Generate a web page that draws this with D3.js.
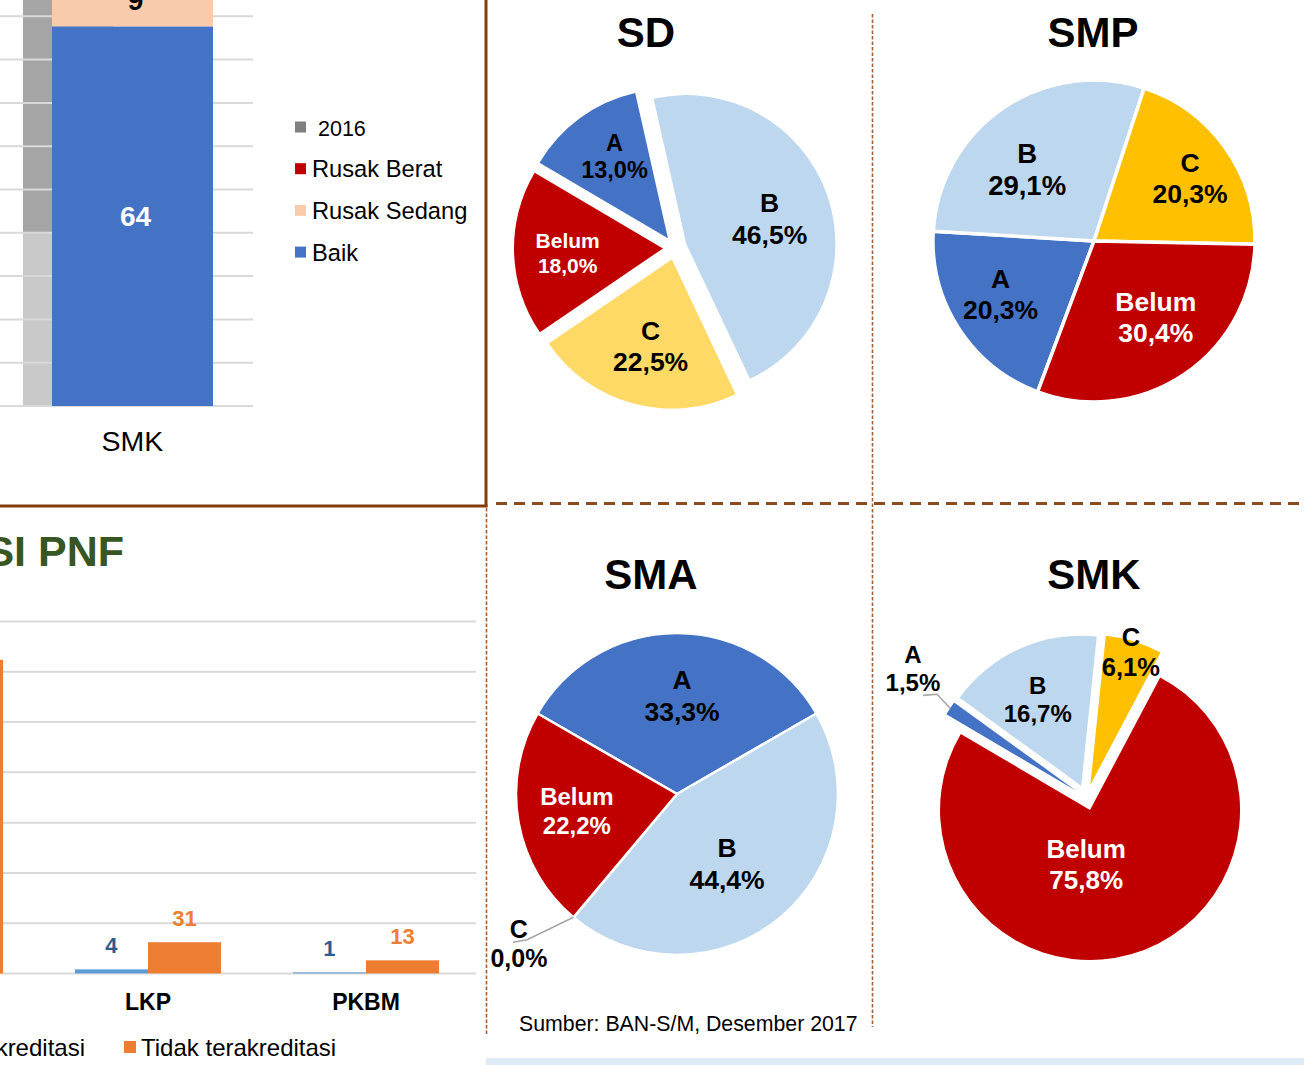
<!DOCTYPE html>
<html><head><meta charset="utf-8">
<script src="https://cdn.jsdelivr.net/npm/d3@7"></script>
<style>
html,body{margin:0;padding:0;background:#fff;}
svg{display:block;font-family:"Liberation Sans",Arial,Helvetica,sans-serif;}
</style>
</head><body>
<svg id="c" width="1304" height="1065"></svg>
<script>
// ================= DATA =================
// Top-left: condition of SMK buildings (100% stacked)
const condCategories = ["SMK"];
const condSeries = ["Baik", "Rusak Sedang", "Rusak Berat"];
const condValues = [64, 9, 0];
const condLegend = ["2016", "Rusak Berat", "Rusak Sedang", "Baik"];
const prev2016Series = ["Baik", "Rusak"];
const prev2016Shares = [40, 60];
const condGridTicks = [0, 0.1, 0.2, 0.3, 0.4, 0.5, 0.6, 0.7, 0.8, 0.9, 1.0];

// Bottom-left: PNF accreditation
const pnfTitle = "AKREDITASI PNF";
const pnfCategories = ["PAUD", "LKP", "PKBM"];
const pnfSeries = ["Terakreditasi", "Tidak terakreditasi"];
const pnfAccredited = [62, 4, 1];
const pnfNotAccredited = [312, 31, 13];
const pnfGridTicks = [0, 50, 100, 150, 200, 250, 300, 350];

// Pies: accreditation share (%)
const pieCategories = ["A", "B", "C", "Belum"];
const pieTitles = ["SD", "SMP", "SMA", "SMK"];
const sdShares  = [13.0, 46.5, 22.5, 18.0];
const smpShares = [20.3, 29.1, 20.3, 30.4];
const smaShares = [33.3, 44.4, 0.0, 22.2];
const smkShares = [1.5, 16.7, 6.1, 75.8];
const sourceNote = "Sumber: BAN-S/M, Desember 2017";

// ================= DRAW =================
const svg = d3.select("#c");
const GRID = "#d9d9d9";

// ---------- top-left stacked bar ----------
{
  const g = svg.append("g");
  const y = d3.scaleLinear().domain([0, 1]).range([406, -27]);
  const x = d3.scaleBand().domain(condCategories).range([0, 265]).paddingInner(0).paddingOuter(0.323);
  const bx = x("SMK"), bw = x.bandwidth();

  const prevTot = d3.sum(prev2016Shares);
  const prevCum = [0, ...d3.cumsum(prev2016Shares)].map(v => v / prevTot);
  const prevColors = ["#c9c9c9", "#a5a5a5"];
  g.selectAll("rect.prev").data(prev2016Shares).join("rect")
    .attr("x", bx - 29).attr("width", 90)
    .attr("y", (d, i) => y(prevCum[i + 1]))
    .attr("height", (d, i) => y(prevCum[i]) - y(prevCum[i + 1]))
    .attr("fill", (d, i) => prevColors[i]);

  g.selectAll("line.grid").data(condGridTicks).join("line")
    .attr("x1", 0).attr("x2", 253)
    .attr("y1", d => y(d)).attr("y2", d => y(d))
    .attr("stroke", GRID).attr("stroke-width", 2);

  const tot = d3.sum(condValues);
  const cum = [0, ...d3.cumsum(condValues)].map(v => v / tot);
  const colors = { "Baik": "#4472c4", "Rusak Sedang": "#f8cbad", "Rusak Berat": "#c00000" };
  const labCol = { "Baik": "#ffffff", "Rusak Sedang": "#000000", "Rusak Berat": "#ffffff" };
  condSeries.forEach((s, i) => {
    if (!condValues[i]) return;
    g.append("rect").attr("x", bx).attr("width", bw)
      .attr("y", y(cum[i + 1])).attr("height", y(cum[i]) - y(cum[i + 1]))
      .attr("fill", colors[s]);
    g.append("text").attr("x", bx + bw / 2 + 3)
      .attr("y", (y(cum[i]) + y(cum[i + 1])) / 2 + 10)
      .attr("text-anchor", "middle").attr("font-weight", "bold").attr("font-size", 28)
      .attr("fill", labCol[s]).text(condValues[i]);
  });
  g.append("text").attr("x", bx + bw / 2).attr("y", 451).attr("text-anchor", "middle")
    .attr("font-size", 28.5).attr("fill", "#000").text(condCategories[0]);

  const legCol = { "2016": "#7f7f7f", "Rusak Berat": "#c00000", "Rusak Sedang": "#f8cbad", "Baik": "#4472c4" };
  condLegend.forEach((s, i) => {
    const cy = 127 + i * 41.7;
    g.append("rect").attr("x", 295).attr("y", cy - 5.5).attr("width", 11).attr("height", 11).attr("fill", legCol[s]);
    g.append("text").attr("x", 312).attr("y", cy + 8.5)
      .attr("font-size", s === "2016" ? 21.5 : 23.7).attr("fill", "#000")
      .text(s === "2016" ? "\u00a0" + s : s);
  });
}

// ---------- frame lines ----------
svg.append("line").attr("x1", 486).attr("x2", 486).attr("y1", 0).attr("y2", 507)
  .attr("stroke", "#843c0c").attr("stroke-width", 3);
svg.append("line").attr("x1", 0).attr("x2", 487.5).attr("y1", 506).attr("y2", 506)
  .attr("stroke", "#843c0c").attr("stroke-width", 3);
svg.append("line").attr("x1", 496).attr("x2", 1304).attr("y1", 503.5).attr("y2", 503.5)
  .attr("stroke", "#8b4a1f").attr("stroke-width", 3).attr("stroke-dasharray", "11 7");
svg.append("line").attr("x1", 486.5).attr("x2", 486.5).attr("y1", 508).attr("y2", 1036)
  .attr("stroke", "#a0603a").attr("stroke-width", 1.6).attr("stroke-dasharray", "3.5 2");
svg.append("line").attr("x1", 872.5).attr("x2", 872.5).attr("y1", 14).attr("y2", 1027)
  .attr("stroke", "#a0603a").attr("stroke-width", 1.6).attr("stroke-dasharray", "3.5 2");
svg.append("rect").attr("x", 486).attr("y", 1058).attr("width", 818).attr("height", 7).attr("fill", "#deebf7");

// ---------- bottom-left grouped bar ----------
{
  const g = svg.append("g");
  const y = d3.scaleLinear().domain([0, 350]).range([973.4, 621.6]);
  const x = d3.scaleBand().domain(pnfCategories).range([-179, 475]).paddingInner(0.33).paddingOuter(0.165);
  const xs = d3.scaleBand().domain(pnfSeries).range([0, x.bandwidth()]);
  const sColors = ["#5b9bd5", "#ed7d31"];
  const lColors = ["#2e5b8e", "#ed7d31"];
  const vals = [pnfAccredited, pnfNotAccredited];

  g.append("text").attr("x", 124).attr("y", 566).attr("text-anchor", "end")
    .attr("font-weight", "bold").attr("font-size", 43).attr("fill", "#375623").text(pnfTitle);

  g.selectAll("line.grid").data(pnfGridTicks).join("line")
    .attr("x1", 0).attr("x2", 476)
    .attr("y1", d => y(d)).attr("y2", d => y(d))
    .attr("stroke", GRID).attr("stroke-width", 2);

  pnfCategories.forEach((c, ci) => {
    pnfSeries.forEach((s, si) => {
      const v = vals[si][ci];
      const x0 = x(c) + xs(s);
      g.append("rect").attr("x", x0).attr("width", xs.bandwidth())
        .attr("y", y(v)).attr("height", y(0) - y(v)).attr("fill", sColors[si]);
      g.append("text").attr("x", x0 + xs.bandwidth() / 2).attr("y", y(v) - 16)
        .attr("text-anchor", "middle").attr("font-weight", "bold").attr("font-size", 22)
        .attr("fill", lColors[si]).text(v);
    });
    g.append("text").attr("x", x(c) + x.bandwidth() / 2).attr("y", 1010)
      .attr("text-anchor", "middle").attr("font-weight", "bold").attr("font-size", 23)
      .attr("fill", "#000").text(c);
  });

  g.append("text").attr("x", 141).attr("y", 1055.5).attr("font-size", 24).attr("fill", "#000").text(pnfSeries[1]);
  g.append("rect").attr("x", 124).attr("y", 1041).attr("width", 12).attr("height", 12).attr("fill", sColors[1]);
  const t1 = g.append("text").attr("x", 85).attr("y", 1055.5).attr("text-anchor", "end").attr("font-size", 24).attr("fill", "#000").text(pnfSeries[0]);
  const w1 = t1.node().getComputedTextLength();
  g.append("rect").attr("x", 85 - w1 - 17).attr("y", 1041).attr("width", 12).attr("height", 12).attr("fill", sColors[0]);
}

// ---------- pies ----------
// layout only: centre, radius, start angle, explode distance, label nudges (px) per slice
const pieLayouts = [
  { title: pieTitles[0], shares: sdShares, tx: 646, ty: 46.5, cx: 675, cy: 248, r: 149, start: -59.5, explode: 12, stroke: 0,
    colors: ["#4472c4", "#bdd7ee", "#ffd966", "#c00000"], fs: [23.5, 26.5, 26.5, 21], labelFrac: 0.62,
    nudge: [[1, -7.5], [-4, 4.5], [3, -3], [-3, 1.5]], leaderFrac: 0.35 },
  { title: pieTitles[1], shares: smpShares, tx: 1093, ty: 46.5, cx: 1094, cy: 241, r: 161, start: 200.5, explode: 0, stroke: 3.5,
    colors: ["#4472c4", "#bdd7ee", "#ffc000", "#c00000"], fs: [26.5, 27.5, 26.5, 26.5], labelFrac: 0.64,
    nudge: [[-7, -3], [-9, 13.5], [12, -3.5], [4, -9.5]], leaderFrac: 0.35 },
  { title: pieTitles[2], shares: smaShares, tx: 651, ty: 589, cx: 677, cy: 794, r: 161, start: -60, explode: 0, stroke: 2.5,
    colors: ["#4472c4", "#bdd7ee", "#ffc000", "#c00000"], fs: [26.5, 26.5, 25, 24], labelFrac: 0.6,
    nudge: [[5, -2], [-12, -4.5], [-1, -7.5], [-5, 0]], leaderFrac: 0.85 },
  { title: pieTitles[3], shares: smkShares, tx: 1094, ty: 589, cx: 1086.5, cy: 797.5, r: 150, start: -59.5, explode: 13, stroke: 0,
    colors: ["#4472c4", "#bdd7ee", "#ffc000", "#c00000"], fs: [24, 24, 25.5, 26], labelFrac: 0.62,
    nudge: [[0, 6], [-5.5, -1.5], [0, 0], [-19, 1]], leaderFrac: 0.35 }
];

const fmt = v => v.toFixed(1).replace(".", ",") + "%";

pieLayouts.forEach(P => {
  const g = svg.append("g");
  g.append("text").attr("x", P.tx).attr("y", P.ty).attr("text-anchor", "middle")
    .attr("font-weight", "bold").attr("font-size", 42).attr("fill", "#000").text(P.title);

  const a0 = P.start * Math.PI / 180;
  const arcs = d3.pie().sort(null).value(d => d).startAngle(a0).endAngle(a0 + 2 * Math.PI)(P.shares);
  const arcGen = d3.arc().innerRadius(0).outerRadius(P.r);
  const total = d3.sum(P.shares);

  const geo = arcs.map((a, i) => {
    const mid = (a.startAngle + a.endAngle) / 2;
    const ox = P.explode * Math.sin(mid), oy = -P.explode * Math.cos(mid);
    return { a, i, mid, ccx: P.cx + ox, ccy: P.cy + oy };
  });

  geo.forEach(o => {
    if (o.a.value <= 0) return;
    g.append("path").attr("d", arcGen(o.a))
      .attr("transform", `translate(${o.ccx},${o.ccy})`)
      .attr("fill", P.colors[o.i])
      .attr("stroke", P.stroke ? "#fff" : "none").attr("stroke-width", P.stroke)
      .attr("stroke-linejoin", "round");
  });

  geo.forEach(o => {
    const f = o.a.value / total;
    const cat = pieCategories[o.i];
    const isBelum = cat === "Belum";
    const fs = P.fs[o.i];
    let ang = o.mid, lr;
    if (f < 0.02) { ang = o.mid + 5 * Math.PI / 180; lr = 1.38 * P.r; }
    else if (f < 0.08) lr = 0.93 * P.r;
    else if (f > 0.6) lr = 0.37 * P.r;
    else lr = P.labelFrac * P.r;
    const lx = o.ccx + lr * Math.sin(ang) + P.nudge[o.i][0];
    const ly = o.ccy - lr * Math.cos(ang) + P.nudge[o.i][1];

    if (f < 0.02) {
      const p0 = [o.ccx + P.r * Math.sin(o.mid), o.ccy - P.r * Math.cos(o.mid)];
      const p1 = [p0[0] + P.leaderFrac * (lx - p0[0]), p0[1] + P.leaderFrac * (ly - p0[1])];
      const dir = Math.sin(o.mid) < 0 ? -1 : 1;
      const p2 = [p1[0] + dir * 14, p1[1] + 3 * P.leaderFrac];
      g.append("path").attr("d", d3.line()([p0, p1, p2]))
        .attr("fill", "none").attr("stroke", "#a6a6a6").attr("stroke-width", 1.6);
    }
    const gap = 1.18 * fs;
    const col = isBelum ? "#ffffff" : "#000000";
    const t = g.append("text").attr("text-anchor", "middle").attr("font-weight", "bold")
      .attr("font-size", fs).attr("fill", col);
    t.append("tspan").attr("x", lx).attr("y", ly - gap / 2 + 0.36 * fs).text(cat);
    t.append("tspan").attr("x", lx).attr("y", ly + gap / 2 + 0.36 * fs).text(fmt(o.a.value));
  });
});

svg.append("text").attr("x", 519).attr("y", 1031).attr("font-size", 21.3).attr("fill", "#000").text(sourceNote);
</script>
</body></html>
